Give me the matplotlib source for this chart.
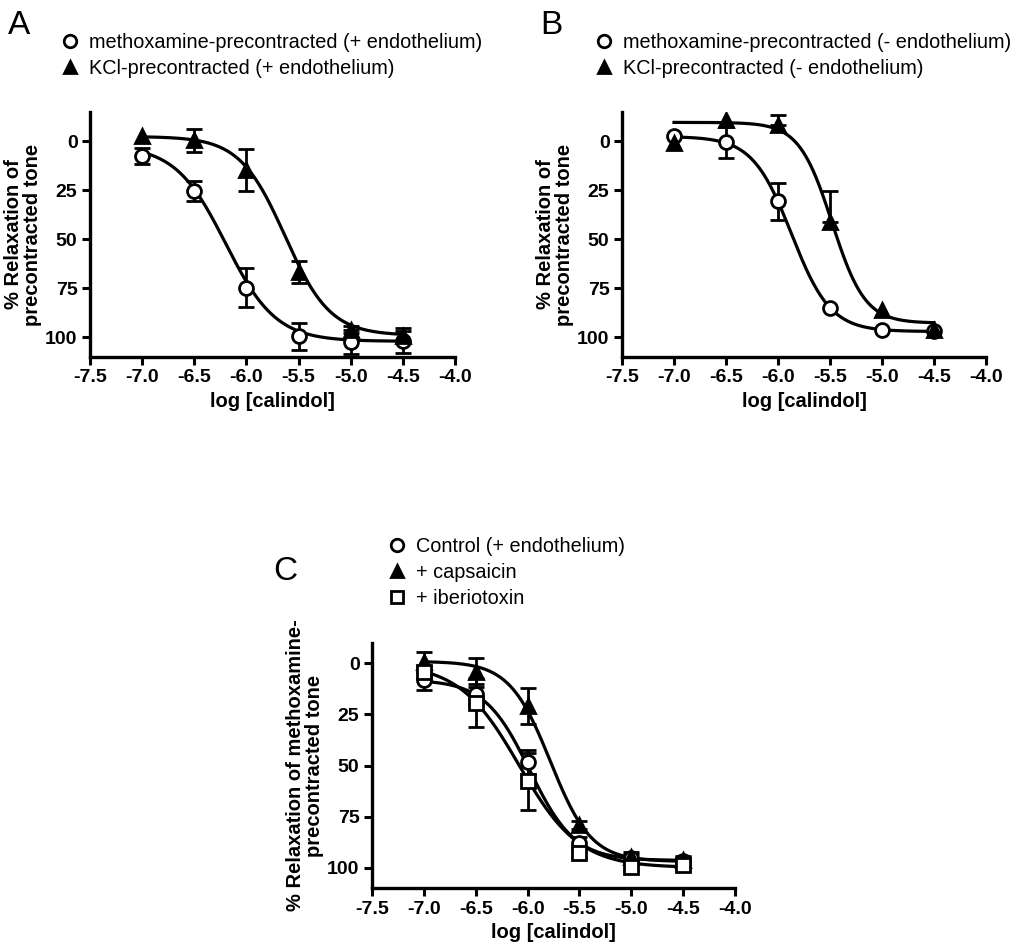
import numpy as np
import matplotlib
matplotlib.use('Agg')
import matplotlib.pyplot as plt
from matplotlib.lines import Line2D

plt.rcParams['font.family'] = ['Liberation Sans', 'DejaVu Sans']

# concentrations (log M)
log_conc = [-7.0, -6.5, -6.0, -5.5, -5.0, -4.5]

# panel A (+ endothelium)
a_mtx = [7.4, 25.2, 74.6, 99.5, 102.4, 101.7]
a_mtx_err = [4.0, 5.0, 10.0, 7.0, 6.0, 6.4]
a_kcl = [-2.6, -0.5, 14.6, 66.4, 96.0, 99.5]
a_kcl_err = [0.0, 5.8, 10.9, 5.6, 2.0, 3.0]

# panel B (- endothelium), KCl error bars shown upward only
b_mtx = [-2.9, 0.5, 30.5, 84.9, 96.0, 96.9]
b_mtx_err = [0.0, 8.0, 9.4, 0.0, 0.0, 0.0]
b_kcl = [0.8, -10.8, -8.6, 41.2, 85.8, 96.0]
b_kcl_err = [0.0, 0.0, 5.0, 16.0, 0.0, 0.0]

# panel C
c_ctrl = [8.0, 15.0, 48.4, 88.0, 95.4, 96.6]
c_ctrl_err = [5.0, 5.0, 6.0, 3.0, 2.0, 2.0]
c_caps = [-0.5, 4.4, 20.8, 79.0, 94.6, 96.3]
c_caps_err = [5.0, 7.0, 9.0, 2.0, 2.0, 2.0]
c_ibtx = [4.1, 19.2, 57.7, 93.0, 99.6, 98.8]
c_ibtx_err = [3.0, 12.0, 14.0, 2.0, 2.0, 2.0]

# fitted sigmoid parameters: (start, end, logEC50, hill)
fit_a_mtx = (2.0, 102.0, -6.2, 1.8)
fit_a_kcl = (-2.5, 99.0, -5.63, 2.0)
fit_b_mtx = (-2.5, 97.0, -5.87, 2.31)
fit_b_kcl = (-9.7, 92.7, -5.48, 2.74)
fit_c_ctrl = (8.0, 96.5, -5.98, 2.0)
fit_c_caps = (-1.0, 97.0, -5.78, 2.2)
fit_c_ibtx = (0.0, 100.0, -6.08, 1.5)

x_ticks = [-7.5, -7.0, -6.5, -6.0, -5.5, -5.0, -4.5, -4.0]
y_ticks = [0, 25, 50, 75, 100]


def sigmoid(x, p):
    a, b, c, h = p
    return a + (b - a) / (1 + 10 ** ((c - x) * h))


def style_axes(ax, ylabel, ylim):
    for s in ['top', 'right']:
        ax.spines[s].set_visible(False)
    for s in ['left', 'bottom']:
        ax.spines[s].set_linewidth(2.4)
    ax.set_xlim(-7.5, -4.0)
    ax.set_ylim(ylim)
    ax.set_xticks(x_ticks)
    ax.set_xticklabels(['%.1f' % t for t in x_ticks])
    ax.set_yticks(y_ticks)
    ax.tick_params(width=2.2, length=6, labelsize=14, pad=3)
    for lab in ax.get_xticklabels() + ax.get_yticklabels():
        lab.set_fontweight('bold')
    ax.set_xlabel('log [calindol]', fontsize=14.5, fontweight='bold', labelpad=4)
    ax.set_ylabel(ylabel, fontsize=14.5, fontweight='bold', labelpad=2,
                  linespacing=1.05)


def draw_series(ax, y, err, fit, marker, lower=True):
    xs = np.linspace(-7.0, -4.5, 300)
    ax.plot(xs, sigmoid(xs, fit), color='black', lw=2.3, zorder=2)
    err = np.array(err)
    # y axis is inverted: the first row goes toward 0 on screen-up side
    up = err
    down = err if lower else np.zeros_like(err)
    keep = err > 0
    ax.errorbar(np.array(log_conc)[keep], np.array(y)[keep],
                yerr=[up[keep], down[keep]], fmt='none',
                ecolor='black', elinewidth=2.0, capsize=6, capthick=2.0,
                zorder=3)
    face = 'black' if marker == '^' else 'white'
    ax.plot(log_conc, y, linestyle='none', marker=marker, markersize=10,
            markerfacecolor=face, markeredgecolor='black',
            markeredgewidth=2.0, zorder=4)


def legend_handle(marker):
    face = 'black' if marker == '^' else 'white'
    return Line2D([], [], linestyle='none', marker=marker, markersize=9,
                  markerfacecolor=face, markeredgecolor='black',
                  markeredgewidth=2.0)


fig = plt.figure(figsize=(10.11, 9.46), dpi=100)
W, H = 1011.0, 946.0

ax_a = fig.add_axes([90 / W, 1 - 357 / H, 365 / W, 245 / H])
ax_b = fig.add_axes([622 / W, 1 - 357 / H, 364 / W, 245 / H])
ax_c = fig.add_axes([372 / W, 1 - 888 / H, 363 / W, 245 / H])

draw_series(ax_a, a_mtx, a_mtx_err, fit_a_mtx, 'o')
draw_series(ax_a, a_kcl, a_kcl_err, fit_a_kcl, '^')
style_axes(ax_a, '% Relaxation of\nprecontracted tone', (110, -15))

draw_series(ax_b, b_mtx, b_mtx_err, fit_b_mtx, 'o')
draw_series(ax_b, b_kcl, b_kcl_err, fit_b_kcl, '^', lower=False)
style_axes(ax_b, '% Relaxation of\nprecontracted tone', (110, -15))

draw_series(ax_c, c_ctrl, c_ctrl_err, fit_c_ctrl, 'o')
draw_series(ax_c, c_caps, c_caps_err, fit_c_caps, '^')
draw_series(ax_c, c_ibtx, c_ibtx_err, fit_c_ibtx, 's')
style_axes(ax_c, '% Relaxation of methoxamine-\nprecontracted tone', (110, -10))

leg_kw = dict(loc='upper left', bbox_transform=fig.transFigure, frameon=False,
              borderpad=0, borderaxespad=0, handlelength=1.0,
              handletextpad=0.45, labelspacing=0.36, fontsize=14.3)

ax_a.legend([legend_handle('o'), legend_handle('^')],
            ['methoxamine-precontracted (+ endothelium)',
             'KCl-precontracted (+ endothelium)'],
            bbox_to_anchor=(60 / W, 1 - 33 / H), **leg_kw)
ax_b.legend([legend_handle('o'), legend_handle('^')],
            ['methoxamine-precontracted (- endothelium)',
             'KCl-precontracted (- endothelium)'],
            bbox_to_anchor=(594 / W, 1 - 33 / H), **leg_kw)
ax_c.legend([legend_handle('o'), legend_handle('^'), legend_handle('s')],
            ['Control (+ endothelium)', '+ capsaicin', '+ iberiotoxin'],
            bbox_to_anchor=(387 / W, 1 - 537 / H), **leg_kw)

fig.text(8 / W, 1 - 34 / H, 'A', fontsize=24)
fig.text(540 / W, 1 - 34 / H, 'B', fontsize=24)
fig.text(273 / W, 1 - 580 / H, 'C', fontsize=24)

fig.savefig('out.png', dpi=100)
